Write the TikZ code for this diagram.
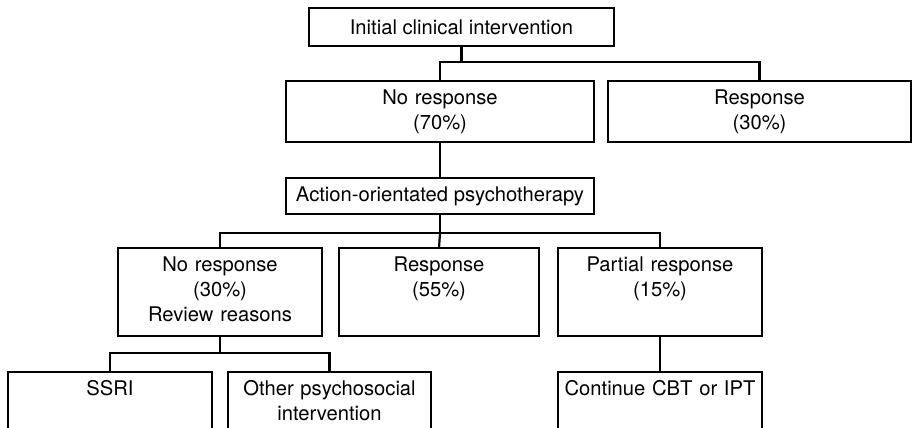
\documentclass[tikz,border=0pt]{standalone}
\usepackage{fontspec}
\setmainfont{TeX Gyre Heros}
\begin{document}
\begin{tikzpicture}[x=1pt,y=-1pt,
  box/.style={draw, line width=2.2pt, anchor=north west, inner sep=0pt, outer sep=0pt,
    font=\fontsize{20.2pt}{25pt}\selectfont},
  txt/.style={anchor=base, align=center, inner sep=0pt, text width=200pt,
    font=\fontsize{20.2pt}{25pt}\selectfont},
  link/.style={line width=2.2pt}]
\useasboundingbox (0,0) rectangle (914,428);
\clip (0,0) rectangle (914,428);

% boxes
\node[box, minimum width=305pt, minimum height=38pt] (init) at (309,8) {Initial clinical intervention};
\node[box, minimum width=308pt, minimum height=61pt] (nr1) at (286,81) {};
\node[box, minimum width=303pt, minimum height=61pt] (r1) at (608,81) {};
\node[box, minimum width=308pt, minimum height=36pt] (act) at (286,178) {Action-orientated psychotherapy};
\node[box, minimum width=204pt, minimum height=88pt] (nr2) at (118,248) {};
\node[box, minimum width=200pt, minimum height=88pt] (r2) at (339,248) {};
\node[box, minimum width=204pt, minimum height=88pt] (pr) at (558,248) {};
\node[box, minimum width=204pt, minimum height=80pt] (ssri) at (8,372) {};
\node[box, minimum width=203pt, minimum height=80pt] (oth) at (228,372) {};
\node[box, minimum width=204pt, minimum height=80pt] (cont) at (558,372) {};

% box texts, first baseline below the top edge
\node[txt] (nr1t) at ([yshift=-23pt]nr1.north) {No response\\(70\%)};
\node[txt] (r1t) at ([yshift=-23pt]r1.north) {Response\\(30\%)};
\node[txt] (nr2t) at ([yshift=-23pt]nr2.north) {No response\\(30\%)\\Review reasons};
\node[txt] (r2t) at ([yshift=-23pt]r2.north) {Response\\(55\%)};
\node[txt] (prt) at ([yshift=-23pt]pr.north) {Partial response\\(15\%)};
\node[txt] (ssrit) at ([yshift=-23pt]ssri.north) {SSRI};
\node[txt] (otht) at ([yshift=-23pt]oth.north) {Other psychosocial\\intervention};
\node[txt] (contt) at ([yshift=-23pt]cont.north) {Continue CBT or IPT};

% connectors
\draw[link] (init.south) -- ++(0,16) coordinate (j1);
\draw[link] (nr1.north) |- (j1) -| (r1.north);
\draw[link] (nr1.south) -- (act.north);
\draw[link] (act.south) -- ++(0,19) coordinate (j2);
\draw[link] (nr2.north) |- (j2) -| (pr.north);
\draw[link] (j2) -- (r2.north);
\draw[link] (nr2.south) -- ++(0,17) coordinate (j3);
\draw[link] (ssri.north) |- (j3) -| (oth.north);
\draw[link] (pr.south) -- (cont.north);
\end{tikzpicture}
\end{document}
